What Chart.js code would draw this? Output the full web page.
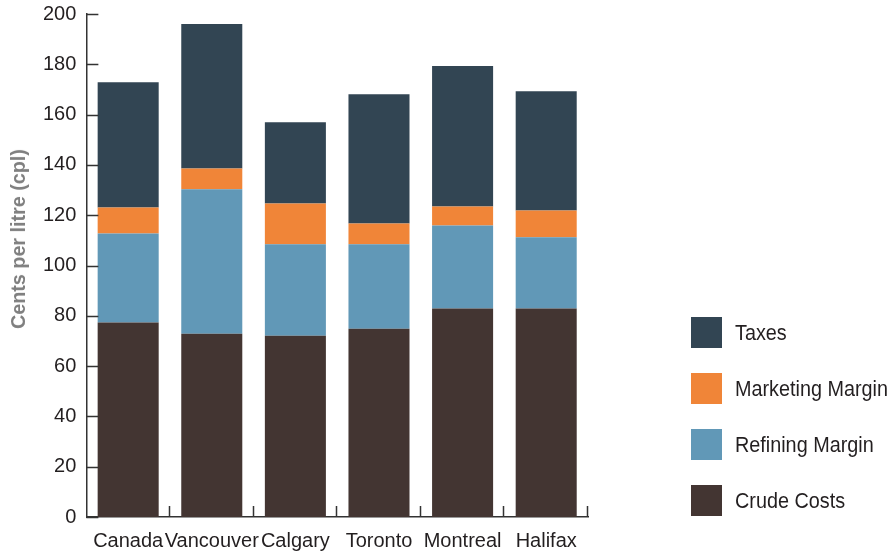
<!DOCTYPE html>
<html><head><meta charset="utf-8">
<script src="https://cdn.jsdelivr.net/npm/chart.js@4"></script>
<style>
html,body{margin:0;padding:0;background:#fff;}
#wrap{position:relative;width:895px;height:554px;overflow:hidden;}
#c{position:absolute;left:0;top:-8px;}
#legend{position:absolute;left:691px;top:317px;font-family:"Liberation Sans",Arial,sans-serif;font-size:22px;color:#231f20;}
.item{display:flex;align-items:center;height:31px;margin-bottom:25px;}
.sw{width:31px;height:31px;margin-right:13px;flex:none;}
.tx{display:inline-block;transform:scaleX(0.9);transform-origin:left center;white-space:nowrap;}
#ytitle{position:absolute;left:18px;top:239px;transform:translate(-50%,-50%) rotate(-90deg) scaleX(0.94);white-space:nowrap;font-family:"Liberation Sans",Arial,sans-serif;font-weight:bold;font-size:21px;color:#7f7f7f;}
</style>
</head><body>
<div id="wrap">
<canvas id="c" width="895" height="573"></canvas>
<div id="ytitle">Cents per litre (cpl)</div>
<div id="legend"></div>
</div>
<script>
const categories = ["Canada","Vancouver","Calgary","Toronto","Montreal","Halifax"];
const crudeCosts = [77.3, 72.9, 72.1, 74.9, 82.9, 82.9];
const refiningMargin = [35.4, 57.4, 36.3, 33.5, 33.0, 28.3];
const marketingMargin = [10.4, 8.3, 16.3, 8.3, 7.6, 10.7];
const taxes = [49.8, 57.4, 32.3, 51.4, 55.8, 47.4];
const seriesNames = ["Crude Costs","Refining Margin","Marketing Margin","Taxes"];
const seriesColors = ["#433532","#6198b7","#f08538","#324553"];
const yTickMin = 0, yTickMax = 200, yTickStep = 20;

const seriesData = [crudeCosts, refiningMargin, marketingMargin, taxes];
const datasets = seriesData.map((d,i)=>({
  label: seriesNames[i], data: d, backgroundColor: seriesColors[i],
  borderWidth: 0, barPercentage: 0.73, categoryPercentage: 1.0
}));

const innerTicks = {
  id:'innerTicks',
  afterDatasetsDraw(chart){
    const {ctx, scales:{x,y}} = chart;
    ctx.save();
    ctx.strokeStyle='#333'; ctx.lineWidth=1.5;
    ctx.beginPath();
    y.ticks.forEach((t,i)=>{
      const py = Math.round(y.getPixelForTick(i))+0.5;
      ctx.moveTo(x.left, py); ctx.lineTo(x.left+12, py);
    });
    const half = x.width/categories.length/2;
    for(let i=0;i<categories.length;i++){
      const px = Math.round(x.getPixelForValue(i)+half)-0.5;
      ctx.moveTo(px, y.bottom); ctx.lineTo(px, y.bottom-11);
    }
    ctx.stroke();
    ctx.restore();
  }
};

new Chart(document.getElementById('c'), {
  type:'bar',
  data:{labels:categories, datasets},
  options:{
    responsive:false, animation:false,
    layout:{padding:{left:33, right:307, top:0, bottom:0}},
    plugins:{legend:{display:false}, tooltip:{enabled:false}},
    scales:{
      x:{stacked:true, grid:{display:false, drawTicks:false},
         border:{display:true, color:'#333', width:1.5},
         ticks:{color:'#231f20', padding:12, maxRotation:0, minRotation:0, autoSkip:false,
                font:{family:'"Liberation Sans",Arial,sans-serif', size:20}}},
      y:{stacked:true, min:yTickMin, max:yTickMax,
         grid:{display:false, drawTicks:false},
         border:{display:true, color:'#333', width:1.5},
         ticks:{stepSize:yTickStep, color:'#231f20', padding:10, font:{family:'"Liberation Sans",Arial,sans-serif', size:20}}}
    }
  },
  plugins:[innerTicks]
});

const lg = document.getElementById('legend');
for(let i=seriesNames.length-1;i>=0;i--){
  const it=document.createElement('div'); it.className='item';
  const sw=document.createElement('div'); sw.className='sw'; sw.style.background=seriesColors[i];
  const tx=document.createElement('span'); tx.className='tx'; tx.textContent=seriesNames[i];
  it.appendChild(sw); it.appendChild(tx); lg.appendChild(it);
}
</script>
</body></html>
